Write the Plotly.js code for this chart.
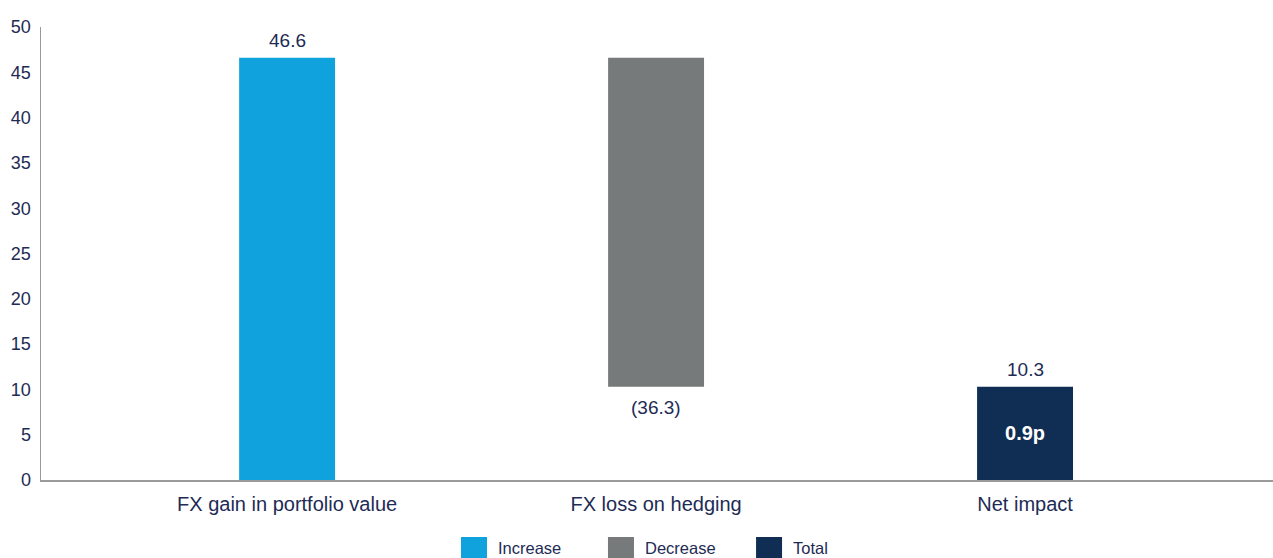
<!DOCTYPE html>
<html>
<head>
<meta charset="utf-8">
<script src="https://cdn.plot.ly/plotly-3.0.1.min.js"></script>
<style>html,body{margin:0;padding:0;background:#fff;}#chart{width:1273px;height:558px;}</style>
</head>
<body>
<div id="chart"></div>
<script>
const categories = ["FX gain in portfolio value", "FX loss on hedging", "Net impact"];
const seriesNames = ["Increase", "Decrease", "Total"];
const increaseValues = [46.6, null, null];
const decreaseValues = [null, 36.3, null];
const totalValues = [null, null, 10.3];
const valueLabels = ["46.6", "(36.3)", "10.3"];
const totalInnerLabel = "0.9p";
const yTicks = [0, 5, 10, 15, 20, 25, 30, 35, 40, 45, 50];

const colors = ["#10a2dc", "#777a7a", "#102e54"];
const textColor = "#1e2b55";
const font = "Liberation Sans, Arial, sans-serif";

// Decrease bar floats: base = start - loss
const decreaseBase = [null, increaseValues[0] - decreaseValues[1], null];

const traces = [
  {type: "bar", name: seriesNames[0], x: categories, y: increaseValues,
   marker: {color: colors[0]}, width: 0.26, hoverinfo: "skip"},
  {type: "bar", name: seriesNames[1], x: categories, y: decreaseValues, base: decreaseBase,
   marker: {color: colors[1]}, width: 0.26, hoverinfo: "skip"},
  {type: "bar", name: seriesNames[2], x: categories, y: totalValues,
   marker: {color: colors[2]}, width: 0.26, hoverinfo: "skip",
   text: [null, null, totalInnerLabel], textposition: "inside", insidetextanchor: "middle",
   textfont: {color: "#ffffff", size: 20, family: font, weight: "bold"}}
];

const annotations = [
  {x: categories[0], y: increaseValues[0], text: valueLabels[0], yanchor: "bottom", yshift: 5},
  {x: categories[1], y: decreaseBase[1], text: valueLabels[1], yanchor: "top", yshift: -8},
  {x: categories[2], y: totalValues[2], text: valueLabels[2], yanchor: "bottom", yshift: 5}
].map(a => Object.assign({xref: "x", yref: "y", showarrow: false,
  font: {size: 19, color: textColor, family: font}}, a));

// custom legend (large square swatches), laid out in paper coordinates
const shapes = [];
const legendX = [0.3409, 0.4602, 0.5804];   // swatch left edges (paper)
const swW = 26 / 1232, swTop = -57 / 453, swBot = -78 / 453;
seriesNames.forEach((name, i) => {
  shapes.push({type: "rect", xref: "paper", yref: "paper",
    x0: legendX[i], x1: legendX[i] + swW, y0: swBot, y1: swTop,
    fillcolor: colors[i], line: {width: 0}});
  annotations.push({xref: "paper", yref: "paper", x: legendX[i] + swW + 9 / 1232,
    y: -67.5 / 453, xanchor: "left", yanchor: "middle", showarrow: false, text: name,
    font: {size: 16.5, color: textColor, family: font}});
});

const layout = {
  width: 1273, height: 558,
  margin: {l: 41, r: 0, t: 27, b: 78},
  paper_bgcolor: "#fff", plot_bgcolor: "#fff",
  barmode: "overlay",
  font: {family: font, color: textColor, size: 17},
  xaxis: {type: "category", range: [-0.667, 2.672], showline: true, linecolor: "#9a9a9a", linewidth: 1.5,
    ticks: "", showgrid: false, zeroline: false, tickfont: {size: 20, color: textColor},
    ticklabelstandoff: 5, automargin: false},
  yaxis: {range: [0, 50], tickvals: yTicks, showline: true, linecolor: "#9a9a9a", linewidth: 1.5,
    ticks: "", showgrid: false, zeroline: false, tickfont: {size: 18, color: textColor},
    ticklabelstandoff: 5, automargin: false},
  showlegend: false,
  shapes: shapes,
  annotations: annotations
};

Plotly.newPlot("chart", traces, layout, {displayModeBar: false, staticPlot: true});
</script>
</body>
</html>
